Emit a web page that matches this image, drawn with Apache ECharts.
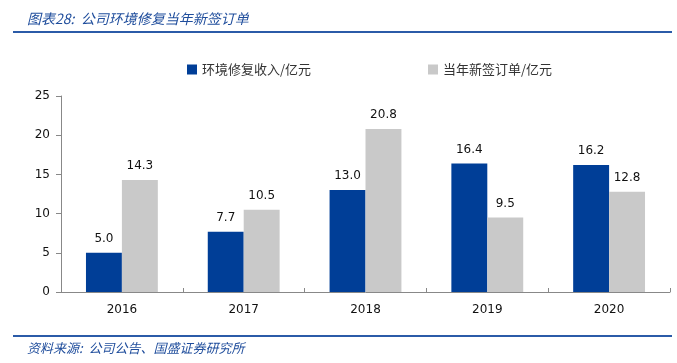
<!DOCTYPE html>
<html><head><meta charset="utf-8">
<script src="https://cdn.jsdelivr.net/npm/echarts@6/dist/echarts.min.js"></script>
<style>html,body{margin:0;padding:0;background:#fff}#c{width:677px;height:363px}</style>
</head><body><div id="c"></div>
<script>
var categories = ['2016','2017','2018','2019','2020'];
var revenue = [5.0, 7.7, 13.0, 16.4, 16.2];
var newOrders = [14.3, 10.5, 20.8, 9.5, 12.8];
var seriesNames = ['环境修复收入/亿元', '当年新签订单/亿元'];
var yTicks = [0, 5, 10, 15, 20, 25];
var titleText = '图表28:  公司环境修复当年新签订单';
var sourceText = '资料来源:  公司公告、国盛证券研究所';

var chart = echarts.init(document.getElementById('c'));
var lineColor = '#2b5ba8';
var fontCJK = '"Noto Sans CJK SC", sans-serif';
var fontNum = '"DejaVu Sans", Verdana, sans-serif';
chart.setOption({
  animation: false,
  title: [
    {text: titleText, left: 22, top: 7, textStyle: {fontSize: 14, fontWeight: 'normal', fontStyle: 'italic', color: '#1f4d9c', fontFamily: fontCJK}},
    {text: sourceText, left: 22, top: 337, textStyle: {fontSize: 13, fontWeight: 'normal', fontStyle: 'italic', color: '#1f4d9c', fontFamily: fontCJK}}
  ],
  graphic: [
    {type: 'line', shape: {x1: 13, y1: 32, x2: 672, y2: 32}, style: {stroke: lineColor, lineWidth: 2}},
    {type: 'line', shape: {x1: 13, y1: 336, x2: 672, y2: 336}, style: {stroke: lineColor, lineWidth: 2}}
  ],
  legend: [
    {data: [seriesNames[0]], left: 182, top: 58, itemWidth: 10, itemHeight: 10, itemGap: 2, icon: 'rect',
     textStyle: {fontSize: 13, color: '#333', fontFamily: fontCJK}},
    {data: [seriesNames[1]], left: 423, top: 58, itemWidth: 10, itemHeight: 10, itemGap: 2, icon: 'rect',
     textStyle: {fontSize: 13, color: '#333', fontFamily: fontCJK}}
  ],
  grid: {left: 61, right: 7, top: 96, bottom: 71, containLabel: false},
  xAxis: {
    type: 'category', data: categories,
    axisLine: {lineStyle: {color: '#888', width: 1}},
    axisTick: {show: true, inside: true, length: 4, alignWithLabel: false, lineStyle: {color: '#888'}},
    axisLabel: {fontSize: 12, color: '#111', margin: 12, fontFamily: fontNum}
  },
  yAxis: {
    type: 'value', min: 0, max: 25, interval: 5,
    axisLine: {show: true, lineStyle: {color: '#888'}},
    axisTick: {show: true, length: 5, lineStyle: {color: '#888'}},
    splitLine: {show: false},
    axisLabel: {fontSize: 12, color: '#111', margin: 11, fontFamily: fontNum}
  },
  series: [
    {name: seriesNames[0], type: 'bar', data: revenue, barGap: '0%', barCategoryGap: '41%',
     itemStyle: {color: '#003e97'},
     label: {show: true, position: 'top', distance: 8, fontSize: 12, color: '#111', fontFamily: fontNum,
       formatter: function(p){return p.value.toFixed(1);}}},
    {name: seriesNames[1], type: 'bar', data: newOrders,
     itemStyle: {color: '#c9c9c9'},
     label: {show: true, position: 'top', distance: 8, fontSize: 12, color: '#111', fontFamily: fontNum,
       formatter: function(p){return p.value.toFixed(1);}}}
  ]
});
</script></body></html>
